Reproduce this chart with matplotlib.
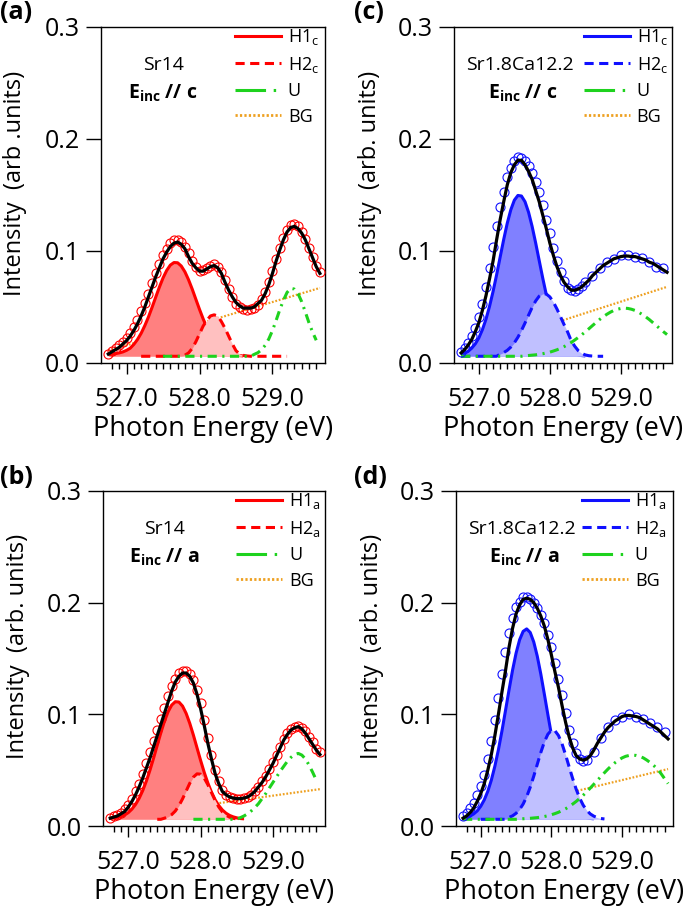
import numpy as np
import matplotlib
matplotlib.use("Agg")
import matplotlib.pyplot as plt
from matplotlib.ticker import FixedLocator
from matplotlib.lines import Line2D

plt.rcParams['font.family'] = ['Open Sans', 'DejaVu Sans']
plt.rcParams['mathtext.fontset'] = 'custom'
plt.rcParams['mathtext.rm'] = 'Open Sans'
plt.rcParams['mathtext.bf'] = 'Open Sans:bold'
plt.rcParams['mathtext.it'] = 'Open Sans:italic'

# energy grids (eV)
E_sr = [526.75, 526.80, 526.85, 526.90, 526.95, 527.00, 527.05, 527.10, 527.15, 527.20,
        527.25, 527.30, 527.35, 527.40, 527.45, 527.50, 527.55, 527.60, 527.65, 527.70,
        527.75, 527.80, 527.85, 527.90, 527.95, 528.00, 528.05, 528.10, 528.15, 528.20,
        528.25, 528.30, 528.35, 528.40, 528.45, 528.50, 528.55, 528.60, 528.65, 528.70,
        528.75, 528.80, 528.85, 528.90, 528.95, 529.00, 529.05, 529.10, 529.15, 529.20,
        529.25, 529.30, 529.35, 529.40, 529.45, 529.50, 529.55, 529.60, 529.65]
E_ca = [526.75, 526.80, 526.85, 526.90, 526.95, 527.00, 527.05, 527.10, 527.15, 527.20,
        527.25, 527.30, 527.35, 527.40, 527.45, 527.50, 527.55, 527.60, 527.65, 527.70,
        527.75, 527.80, 527.85, 527.90, 527.95, 528.00, 528.05, 528.10, 528.15, 528.20,
        528.25, 528.30, 528.35, 528.40, 528.45, 528.50, 528.60, 528.70, 528.80, 528.90,
        529.00, 529.10, 529.20, 529.30, 529.40, 529.50, 529.60]
base = 0.006

# ---- (a) Sr14, E // c
data_a = [0.008, 0.011, 0.013, 0.016, 0.019, 0.022, 0.027, 0.032, 0.038, 0.046,
          0.054, 0.062, 0.071, 0.080, 0.088, 0.096, 0.102, 0.107, 0.110, 0.110,
          0.108, 0.104, 0.098, 0.091, 0.086, 0.082, 0.083, 0.085, 0.087, 0.088,
          0.086, 0.081, 0.074, 0.066, 0.059, 0.053, 0.050, 0.048, 0.047, 0.048,
          0.049, 0.052, 0.057, 0.063, 0.072, 0.082, 0.093, 0.103, 0.112, 0.119,
          0.123, 0.124, 0.122, 0.117, 0.111, 0.103, 0.095, 0.087, 0.081]
fit_a = [0.008, 0.010, 0.012, 0.014, 0.017, 0.020, 0.024, 0.029, 0.035, 0.042,
         0.050, 0.059, 0.068, 0.077, 0.085, 0.093, 0.099, 0.104, 0.107, 0.108,
         0.106, 0.102, 0.095, 0.089, 0.085, 0.082, 0.082, 0.084, 0.086, 0.087,
         0.085, 0.080, 0.072, 0.065, 0.059, 0.054, 0.051, 0.049, 0.049, 0.049,
         0.050, 0.053, 0.056, 0.062, 0.070, 0.080, 0.091, 0.101, 0.110, 0.117,
         0.121, 0.122, 0.120, 0.116, 0.110, 0.102, 0.094, 0.086, 0.080]
h1_a = (526.75, [0.0075, 0.0079, 0.0084, 0.009, 0.0099, 0.0113, 0.0132, 0.0166, 0.021, 0.0265,
                 0.0333, 0.041, 0.0497, 0.0588, 0.0677, 0.0759, 0.0826, 0.0874, 0.0897, 0.0895,
                 0.0866, 0.0814, 0.0743, 0.066, 0.0569, 0.0479, 0.0394, 0.0319, 0.0253, 0.0199,
                 0.0158, 0.0127, 0.0104, 0.0088, 0.0077, 0.007, 0.0066, 0.0063])
h2_a = (527.20, [0.006, 0.006, 0.006, 0.006, 0.006, 0.006, 0.006, 0.006, 0.006, 0.006,
                 0.006, 0.006, 0.007, 0.009, 0.013, 0.019, 0.026, 0.033, 0.038, 0.042,
                 0.043, 0.042, 0.037, 0.031, 0.024, 0.017, 0.011, 0.008, 0.0068, 0.0063,
                 0.006, 0.006, 0.006, 0.006, 0.006, 0.006, 0.006, 0.006, 0.006, 0.006, 0.006])
u_a = (527.50, [0.006] * 25 + [0.0077, 0.0092, 0.0118, 0.0158, 0.0215, 0.029, 0.038, 0.0475,
                               0.056, 0.063, 0.0667, 0.066, 0.062, 0.0548, 0.0456, 0.036,
                               0.0275, 0.0203])
bg_a = ([526.75, 529.65], [0.011, 0.067])

# ---- (b) Sr14, E // a
data_b = [0.007, 0.009, 0.010, 0.012, 0.015, 0.019, 0.024, 0.031, 0.038, 0.047,
          0.056, 0.066, 0.076, 0.086, 0.096, 0.106, 0.116, 0.125, 0.132, 0.137,
          0.139, 0.139, 0.136, 0.131, 0.122, 0.110, 0.095, 0.079, 0.064, 0.050,
          0.040, 0.032, 0.028, 0.026, 0.025, 0.024, 0.024, 0.025, 0.026, 0.028,
          0.031, 0.035, 0.040, 0.045, 0.051, 0.057, 0.064, 0.071, 0.078, 0.083,
          0.087, 0.089, 0.090, 0.088, 0.085, 0.080, 0.075, 0.069, 0.066]
fit_b = [0.007, 0.008, 0.009, 0.011, 0.013, 0.017, 0.022, 0.028, 0.035, 0.043,
         0.052, 0.061, 0.071, 0.081, 0.091, 0.101, 0.111, 0.121, 0.129, 0.134,
         0.137, 0.137, 0.134, 0.128, 0.118, 0.105, 0.090, 0.074, 0.060, 0.047,
         0.038, 0.031, 0.028, 0.026, 0.025, 0.0245, 0.0245, 0.025, 0.026, 0.028,
         0.031, 0.035, 0.039, 0.044, 0.050, 0.056, 0.063, 0.070, 0.077, 0.082,
         0.086, 0.088, 0.089, 0.087, 0.083, 0.078, 0.073, 0.068, 0.064]
h1_b = (526.75, [0.007, 0.0073, 0.0078, 0.0086, 0.0099, 0.012, 0.0151, 0.0193, 0.0248, 0.0318,
                 0.0403, 0.0501, 0.0609, 0.0723, 0.0835, 0.0939, 0.1023, 0.1083, 0.1113, 0.111,
                 0.1074, 0.1008, 0.0919, 0.0814, 0.070, 0.0587, 0.048, 0.0385, 0.0303, 0.0235,
                 0.0184, 0.0144, 0.0115, 0.0095, 0.0082, 0.0073, 0.0067, 0.0064])
h2_b = (527.40, [0.006, 0.006, 0.007, 0.0082, 0.0102, 0.0134, 0.0182, 0.0243, 0.0313, 0.0383,
                 0.0438, 0.0467, 0.0464, 0.0429, 0.037, 0.0299, 0.023, 0.0171, 0.0127, 0.0097,
                 0.0079, 0.0069, 0.0063])
u_b = (527.90, [0.006] * 13 + [0.0075, 0.009, 0.011, 0.0135, 0.0165, 0.020, 0.0245, 0.029,
                               0.034, 0.039, 0.044, 0.049, 0.0535, 0.058, 0.0615, 0.064,
                               0.065, 0.0635, 0.060, 0.0545, 0.048, 0.041])
bg_b = ([526.75, 529.65], [0.007, 0.033])

# ---- (c) Sr1.8Ca12.2, E // c
data_c = [0.010, 0.013, 0.018, 0.024, 0.031, 0.041, 0.053, 0.068, 0.085, 0.104,
          0.122, 0.139, 0.153, 0.166, 0.174, 0.180, 0.184, 0.183, 0.180, 0.176,
          0.170, 0.162, 0.153, 0.141, 0.128, 0.116, 0.103, 0.091, 0.081, 0.073,
          0.067, 0.065, 0.064, 0.066, 0.069, 0.072, 0.078, 0.085, 0.090, 0.093,
          0.096, 0.096, 0.095, 0.094, 0.090, 0.086, 0.085]
fit_c = [0.009, 0.012, 0.016, 0.021, 0.028, 0.036, 0.047, 0.060, 0.075, 0.091,
         0.110, 0.128, 0.144, 0.159, 0.170, 0.177, 0.181, 0.181, 0.177, 0.171,
         0.164, 0.154, 0.144, 0.132, 0.120, 0.107, 0.096, 0.086, 0.078, 0.072,
         0.068, 0.065, 0.065, 0.066, 0.068, 0.071, 0.074, 0.078, 0.081, 0.084,
         0.087, 0.089, 0.091, 0.093, 0.094, 0.095, 0.0955, 0.0955, 0.095, 0.095,
         0.094, 0.093, 0.092, 0.090, 0.089, 0.087, 0.085, 0.083, 0.081]
h1_c = (526.75, [0.0076, 0.0088, 0.0105, 0.0133, 0.0171, 0.0224, 0.0298, 0.039, 0.0505, 0.0638,
                 0.0787, 0.0946, 0.1103, 0.1248, 0.1368, 0.1454, 0.1496, 0.1491, 0.144, 0.1346,
                 0.122, 0.1072, 0.0914, 0.0757, 0.061, 0.048, 0.037, 0.0282, 0.0213, 0.0162,
                 0.0126, 0.0101, 0.0084, 0.0073, 0.0066, 0.0063])
h2_c = (526.75, [0.006] * 11 + [0.008, 0.0093, 0.0113, 0.0142, 0.0181, 0.023, 0.029, 0.0357,
                                0.0427, 0.0496, 0.0554, 0.0597, 0.0618, 0.0616, 0.059, 0.0543,
                                0.0482, 0.0413, 0.0343, 0.0277, 0.020, 0.015, 0.011, 0.0085,
                                0.0072, 0.0065, 0.0062, 0.006, 0.006, 0.006])
u_c = (526.75, [0.006] * 18 + [0.0064, 0.0067, 0.007, 0.0073, 0.0078, 0.0083, 0.009, 0.0097,
                               0.0107, 0.0118, 0.0131, 0.0146, 0.0164, 0.0183, 0.0205, 0.0228,
                               0.0253, 0.0279, 0.0306, 0.0334, 0.0361, 0.0388, 0.0412, 0.0434,
                               0.0453, 0.0469, 0.048, 0.0487, 0.049, 0.0487, 0.048, 0.0469,
                               0.0453, 0.0434, 0.0412, 0.0388, 0.0361, 0.0334, 0.0306, 0.0279,
                               0.0254])
bg_c = ([526.75, 529.65], [0.009, 0.068])

# ---- (d) Sr1.8Ca12.2, E // a
data_d = [0.009, 0.012, 0.016, 0.021, 0.028, 0.036, 0.046, 0.060, 0.076, 0.095,
          0.115, 0.136, 0.156, 0.173, 0.186, 0.196, 0.201, 0.205, 0.205, 0.203,
          0.200, 0.195, 0.189, 0.182, 0.171, 0.160, 0.146, 0.132, 0.117, 0.101,
          0.086, 0.074, 0.065, 0.060, 0.058, 0.059, 0.066, 0.079, 0.089, 0.095,
          0.098, 0.100, 0.098, 0.096, 0.092, 0.089, 0.084]
fit_d = [0.007, 0.009, 0.012, 0.016, 0.022, 0.029, 0.038, 0.050, 0.064, 0.081,
         0.100, 0.120, 0.139, 0.160, 0.177, 0.190, 0.198, 0.203, 0.204, 0.203,
         0.200, 0.195, 0.188, 0.179, 0.167, 0.153, 0.138, 0.124, 0.108, 0.093,
         0.080, 0.070, 0.063, 0.060, 0.059, 0.060, 0.063, 0.068, 0.074, 0.079,
         0.084, 0.088, 0.091, 0.094, 0.096, 0.098, 0.099, 0.099, 0.0985, 0.098,
         0.097, 0.095, 0.093, 0.091, 0.089, 0.087, 0.084, 0.081, 0.078]
h1_d = (526.75, [0.007, 0.0077, 0.0089, 0.0108, 0.0135, 0.0177, 0.0234, 0.0311, 0.0411, 0.0536,
                 0.0683, 0.0851, 0.1033, 0.1218, 0.1395, 0.1548, 0.1668, 0.1743, 0.1765, 0.1733,
                 0.1648, 0.152, 0.136, 0.118, 0.0996, 0.0817, 0.0652, 0.0508, 0.0389, 0.0294,
                 0.022, 0.0167, 0.0129, 0.0103, 0.0086, 0.0075, 0.0068, 0.0064])
h2_d = (527.00, [0.006] * 8 + [0.0077, 0.0091, 0.0114, 0.0148, 0.0197, 0.0263, 0.0347, 0.0446,
                               0.0553, 0.0659, 0.0753, 0.0822, 0.0857, 0.0853, 0.081, 0.0736,
                               0.0638, 0.0531, 0.0426, 0.033, 0.0249, 0.0186, 0.014, 0.0108,
                               0.0088, 0.0075, 0.0067, 0.0063])
u_d = (526.75, [0.006] * 16 + [0.0062, 0.0065, 0.0067, 0.0069, 0.0072, 0.0075, 0.008, 0.0085,
                               0.0092, 0.0101, 0.0111, 0.0123, 0.0138, 0.0154, 0.0174, 0.0196,
                               0.022, 0.0247, 0.0276, 0.0307, 0.034, 0.0374, 0.0408, 0.0443,
                               0.0477, 0.051, 0.054, 0.0567, 0.059, 0.061, 0.0624, 0.0632,
                               0.0634, 0.0632, 0.0624, 0.061, 0.059, 0.0567, 0.054, 0.051,
                               0.047, 0.0425, 0.038])
bg_d = ([526.75, 529.65], [0.007, 0.051])


def seg(start, vals):
    keys = [round(v, 2) for v in E_sr]
    i = keys.index(round(start, 2))
    x = E_sr[i:i + len(vals)]
    assert len(x) == len(vals)
    return np.array(x), np.array(vals)


RED = dict(line='#ff0000', f1='#ff8080', f2='#ffc0c0')
BLUE = dict(line='#1010ff', f1='#8080ff', f2='#c0c0ff')
GREEN = '#1ed21e'
ORANGE = '#eea020'
DASH = (0, (3.0, 1.8))
DASHDOT = (0, (3.0, 1.8, 0.7, 1.8))
DOT = (0, (0.8, 0.8))

W, H = 685, 908
fig = plt.figure(figsize=(W / 100, H / 100), dpi=100)


def make_panel(rect, tag, tagxy, sample, pol, col, edata, data, fit, h1, h2, u, bg, ylab, legx):
    ax = fig.add_axes([rect[0] / W, 1 - rect[3] / H, (rect[2] - rect[0]) / W, (rect[3] - rect[1]) / H])
    assert len(edata) == len(data) and len(E_sr) == len(fit)
    ax.plot(bg[0], bg[1], color=ORANGE, lw=1.6, ls=DOT, zorder=1)
    x1, y1 = seg(*h1)
    ax.fill_between(x1, base, y1, color=col['f1'], lw=0, zorder=2)
    ax.plot(x1, y1, color=col['line'], lw=2.2, zorder=3, solid_capstyle='butt')
    x2, y2 = seg(*h2)
    ax.fill_between(x2, base, y2, color=col['f2'], lw=0, zorder=4)
    ax.plot(x2, y2, color=col['line'], lw=2.2, ls=DASH, zorder=5)
    xu, yu = seg(*u)
    ax.plot(xu, yu, color=GREEN, lw=2.2, ls=DASHDOT, zorder=6)
    ax.plot(edata, data, ls='none', marker='o', ms=6.5, mfc='none', mec=col['line'], mew=0.8, zorder=7)
    ax.plot(E_sr, fit, color='black', lw=2.3, zorder=8)

    ax.set_xlim(526.65, 529.72)
    ax.set_ylim(0, 0.3)
    ax.set_yticks([0.0, 0.1, 0.2, 0.3])
    ax.set_yticklabels(['0.0', '0.1', '0.2', '0.3'])
    ax.set_xticks([527, 528, 529])
    ax.set_xticklabels(['527.0', '528.0', '529.0'])
    ax.xaxis.set_minor_locator(FixedLocator(np.round(np.arange(526.8, 529.65, 0.1), 1)))
    ax.tick_params(axis='y', which='major', length=11, width=1, labelsize=18, pad=4)
    ax.tick_params(axis='x', which='major', length=8, width=1, labelsize=18, pad=9)
    ax.tick_params(axis='x', which='minor', length=4.5, width=1)
    for s in ax.spines.values():
        s.set_linewidth(1)

    ax.set_xlabel('Photon Energy (eV)', fontsize=19.5)
    ax.xaxis.set_label_coords(0.5, -0.155)
    ax.set_ylabel(ylab, fontsize=17)
    ax.yaxis.set_label_coords(-0.33, 0.535)

    fig.text(tagxy[0] / W, 1 - tagxy[1] / H, tag, fontsize=18, fontweight='bold', ha='left', va='top')
    sx = 0.279 if len(sample) < 6 else 0.304
    ex = 0.276 if len(sample) < 6 else 0.314
    ax.text(sx, 0.888, sample, transform=ax.transAxes, fontsize=14, ha='center', va='center')
    ax.text(ex, 0.803, r'$\mathbf{E_{inc}}$ // ' + pol, transform=ax.transAxes,
            fontsize=14, fontweight='bold', ha='center', va='center')

    handles = [Line2D([], [], color=col['line'], lw=2.2),
               Line2D([], [], color=col['line'], lw=2.2, ls=DASH),
               Line2D([], [], color=GREEN, lw=2.2, ls=(0, (10.0, 2.5, 0.8, 2.5))),
               Line2D([], [], color=ORANGE, lw=2.0, ls=DOT)]
    labels = [r'H1$_\mathregular{%s}$' % pol, r'H2$_\mathregular{%s}$' % pol, 'U', 'BG']
    ax.legend(handles, labels, loc='upper left', bbox_to_anchor=(legx, 1.0), frameon=False,
              fontsize=13, handlelength=2.55, handletextpad=0.38, labelspacing=0.42,
              borderaxespad=0.0, borderpad=0.0)
    return ax


make_panel((101, 27, 325, 363), '(a)', (0, 0), 'Sr14', 'c', RED, E_sr, data_a, fit_a,
           h1_a, h2_a, u_a, bg_a, 'Intensity  (arb .units)', 0.598)
make_panel((454, 27, 672, 363), '(c)', (354, 0), 'Sr1.8Ca12.2', 'c', BLUE, E_ca, data_c, fit_c,
           h1_c, h2_c, u_c, bg_c, 'Intensity  (arb. units)', 0.595)
make_panel((103, 491, 325, 826), '(b)', (0, 465), 'Sr14', 'a', RED, E_sr, data_b, fit_b,
           h1_b, h2_b, u_b, bg_b, 'Intensity  (arb. units)', 0.6)
make_panel((456, 491, 673, 826), '(d)', (354, 465), 'Sr1.8Ca12.2', 'a', BLUE, E_ca, data_d, fit_d,
           h1_d, h2_d, u_d, bg_d, 'Intensity  (arb. units)', 0.58)

fig.savefig('out.png', dpi=100)
